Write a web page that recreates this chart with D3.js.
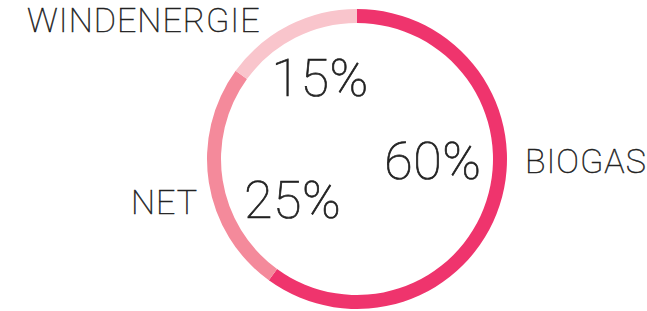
<!DOCTYPE html>
<html><head><meta charset="utf-8">
<script src="https://cdn.jsdelivr.net/npm/d3@7"></script>
<style>
html,body{margin:0;padding:0;background:#fff;}
svg text{font-family:Roboto,"Noto Sans",sans-serif;font-weight:100;fill:#222;stroke:#222;}
</style></head><body>
<svg id="chart" width="647" height="311"></svg>
<script>
const categories = ["BIOGAS", "NET", "WINDENERGIE"];
const values = [60, 25, 15];
const percentLabels = ["60%", "25%", "15%"];
const colors = ["#ef346d", "#f48a9b", "#f9c5cc"];

// layout (positions of labels, polar around center)
const cx = 357, cy = 159, outerR = 150, innerR = 136;
const pctPos = [ {a: 91.5, r: 76}, {a: 238, r: 76}, {a: 335.5, r: 89} ];
const namePos = [ {x: 525, y: 173, anchor: "start"}, {x: 198, y: 214, anchor: "end"}, {x: 27, y: 32, anchor: "start"} ];

const svg = d3.select("#chart");
const g = svg.append("g").attr("transform", `translate(${cx},${cy})`);

const pie = d3.pie().sort(null).value(d => d)(values);
const arc = d3.arc().innerRadius(innerR).outerRadius(outerR);

g.selectAll("path").data(pie).join("path")
  .attr("d", arc)
  .attr("fill", (d, i) => colors[i]);

const rad = d => d * Math.PI / 180;
g.selectAll("text.pct").data(pie).join("text")
  .attr("class", "pct")
  .attr("x", (d, i) => pctPos[i].r * Math.sin(rad(pctPos[i].a)))
  .attr("y", (d, i) => -pctPos[i].r * Math.cos(rad(pctPos[i].a)))
  .attr("dy", "0.355em")
  .attr("text-anchor", "middle")
  .style("font-size", "52px")
  .style("stroke-width", "0.7px")
  .style("letter-spacing", "0.5px")
  .text((d, i) => percentLabels[i]);

svg.selectAll("text.name").data(categories).join("text")
  .attr("class", "name")
  .attr("x", (d, i) => namePos[i].x)
  .attr("y", (d, i) => namePos[i].y)
  .attr("text-anchor", (d, i) => namePos[i].anchor)
  .style("font-size", "34px")
  .style("stroke-width", "0.5px")
  .style("letter-spacing", "1px")
  .text(d => d);
</script>
</body></html>
